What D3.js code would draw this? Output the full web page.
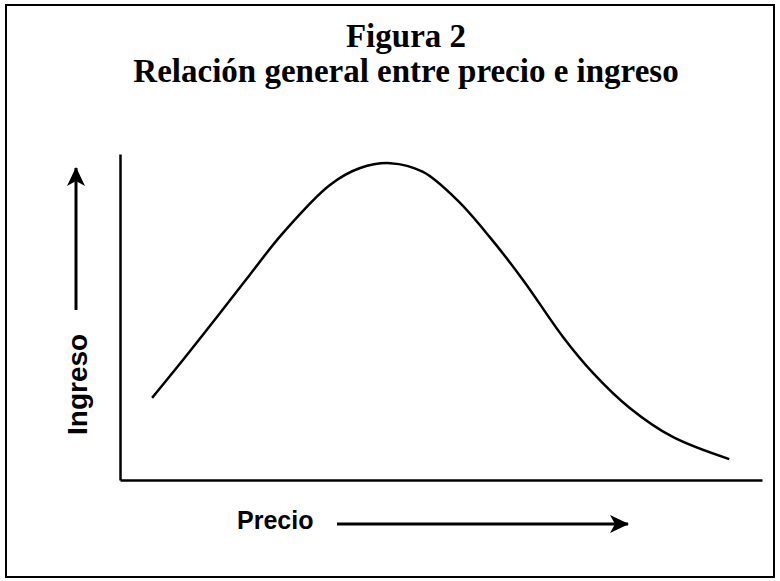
<!DOCTYPE html>
<html>
<head>
<meta charset="utf-8">
<script src="https://cdn.jsdelivr.net/npm/d3@7"></script>
<style>
  body { margin: 0; background: #fff; }
  svg { display: block; }
</style>
</head>
<body>
<svg id="chart" width="780" height="581"></svg>
<script>
'use strict';

// relative units (no tick labels in the original)
const precio = [0.5, 0.98, 1.51, 2.02, 2.54, 3.27, 3.74, 4.21, 4.72, 5.25, 5.76, 6.28, 6.9, 7.37, 7.94, 8.61, 9.49];
const ingreso = [2.52, 3.68, 5.0, 6.29, 7.58, 9.05, 9.57, 9.72, 9.45, 8.59, 7.45, 6.13, 4.39, 3.28, 2.21, 1.32, 0.64];
const titulo = ['Figura 2', 'Relación general entre precio e ingreso'];
const ejeX = 'Precio';
const ejeY = 'Ingreso';

const svg = d3.select('#chart');

const x = d3.scaleLinear().domain([0, 10]).range([120, 762]);
const y = d3.scaleLinear().domain([0, 10]).range([480, 154]);

// frame
svg.append('rect')
    .attr('x', 6).attr('y', 5)
    .attr('width', 768).attr('height', 572)
    .attr('fill', 'none')
    .attr('stroke', '#000')
    .attr('stroke-width', 2);

// title
svg.selectAll('text.title')
    .data(titulo)
    .enter()
    .append('text')
    .attr('class', 'title')
    .attr('x', 406)
    .attr('y', (d, i) => 47 + i * 35)
    .attr('text-anchor', 'middle')
    .style('font-family', '"Liberation Serif", "Times New Roman", serif')
    .style('font-weight', 'bold')
    .style('font-size', '33px')
    .text(d => d);

// axes, drawn as bare lines
svg.append('g')
    .attr('transform', `translate(0,${y(0)})`)
    .call(d3.axisBottom(x).ticks(0).tickSizeOuter(0))
    .select('.domain')
    .attr('stroke-width', 2.5);

svg.append('g')
    .attr('transform', `translate(${x(0)},0)`)
    .call(d3.axisLeft(y).ticks(0).tickSizeOuter(0))
    .select('.domain')
    .attr('stroke-width', 2.5);

// curve
const puntos = precio.map((p, i) => [p, ingreso[i]]);
const line = d3.line()
    .x(d => x(d[0]))
    .y(d => y(d[1]))
    .curve(d3.curveCatmullRom.alpha(0.5));

svg.append('path')
    .datum(puntos)
    .attr('d', line)
    .attr('fill', 'none')
    .attr('stroke', '#000')
    .attr('stroke-width', 2.5);

// arrow head
svg.append('defs').append('marker')
    .attr('id', 'head')
    .attr('viewBox', '0 0 20 20')
    .attr('refX', 18).attr('refY', 10)
    .attr('markerWidth', 20).attr('markerHeight', 20)
    .attr('markerUnits', 'userSpaceOnUse')
    .attr('orient', 'auto')
    .append('path')
    .attr('d', 'M0,1 L19,10 L0,19 L5,10 Z')
    .attr('fill', '#000');

// x label + arrow
svg.append('text')
    .attr('x', 237).attr('y', 529)
    .style('font-family', '"Liberation Sans", Arial, sans-serif')
    .style('font-weight', 'bold')
    .style('font-size', '25px')
    .text(ejeX);

svg.append('line')
    .attr('x1', 337).attr('y1', 524)
    .attr('x2', 628).attr('y2', 524)
    .attr('stroke', '#000')
    .attr('stroke-width', 3)
    .attr('marker-end', 'url(#head)');

// y label + arrow
svg.append('text')
    .attr('transform', 'translate(87,435) rotate(-90)')
    .style('font-family', '"Liberation Sans", Arial, sans-serif')
    .style('font-weight', 'bold')
    .style('font-size', '28px')
    .text(ejeY);

svg.append('line')
    .attr('x1', 76).attr('y1', 310)
    .attr('x2', 76).attr('y2', 168)
    .attr('stroke', '#000')
    .attr('stroke-width', 3)
    .attr('marker-end', 'url(#head)');
</script>
</body>
</html>
